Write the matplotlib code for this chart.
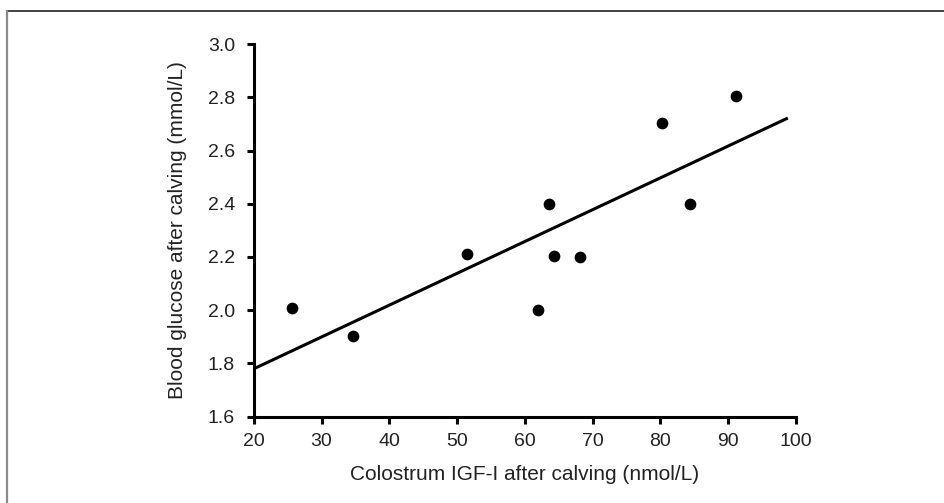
import matplotlib.pyplot as plt
from matplotlib.lines import Line2D

plt.rcParams["font.family"] = ["Liberation Sans", "DejaVu Sans"]

# colostrum IGF-I (nmol/L) vs blood glucose (mmol/L)
igf = [25.7, 34.7, 51.5, 62.0, 63.5, 64.3, 68.2, 80.3, 84.4, 91.2]
glucose = [2.01, 1.905, 2.21, 2.00, 2.40, 2.205, 2.20, 2.705, 2.40, 2.805]

# regression line end points
fit_x = [20, 98.8]
fit_y = [1.78, 2.722]

x_ticks = [20, 30, 40, 50, 60, 70, 80, 90, 100]
y_ticks = [1.6, 1.8, 2.0, 2.2, 2.4, 2.6, 2.8, 3.0]

fig = plt.figure(figsize=(9.45, 5.03), dpi=100)
fig.patch.set_facecolor("white")
ax = fig.add_axes([0.2685, 0.1715, 0.5738, 0.741])

ax.scatter(igf, glucose, s=55, color="black", zorder=3, clip_on=False)
ax.plot(fit_x, fit_y, color="black", linewidth=2.2, solid_capstyle="butt")

ax.set_xlim(20, 100)
ax.set_ylim(1.6, 3.0)
ax.set_xticks(x_ticks)
ax.set_yticks(y_ticks)
ax.set_yticklabels([f"{v:.1f}" for v in y_ticks])

for side in ["top", "right"]:
    ax.spines[side].set_visible(False)
for side in ["left", "bottom"]:
    ax.spines[side].set_linewidth(2.2)
ax.tick_params(direction="out", length=5, width=2.2, labelsize=14,
               labelcolor="#222222")
ax.tick_params(axis="y", pad=8.5)
ax.tick_params(axis="x", pad=6.5)

ax.set_xlabel("Colostrum IGF-I after calving (nmol/L)", fontsize=15,
              color="#222222", labelpad=11)
ax.set_ylabel("Blood glucose after calving (mmol/L)", fontsize=15,
              color="#222222", labelpad=15)

# outer frame of the figure panel
W, H = 945, 503
fig.add_artist(Line2D([7 / W, 1], [1 - 11 / H, 1 - 11 / H], color="#333333",
                      linewidth=1.3, transform=fig.transFigure))
fig.add_artist(Line2D([7 / W, 7 / W], [0, 1 - 11 / H], color="#8a8a8a",
                      linewidth=1.6, transform=fig.transFigure))

fig.savefig("out.png", dpi=100, facecolor="white")
